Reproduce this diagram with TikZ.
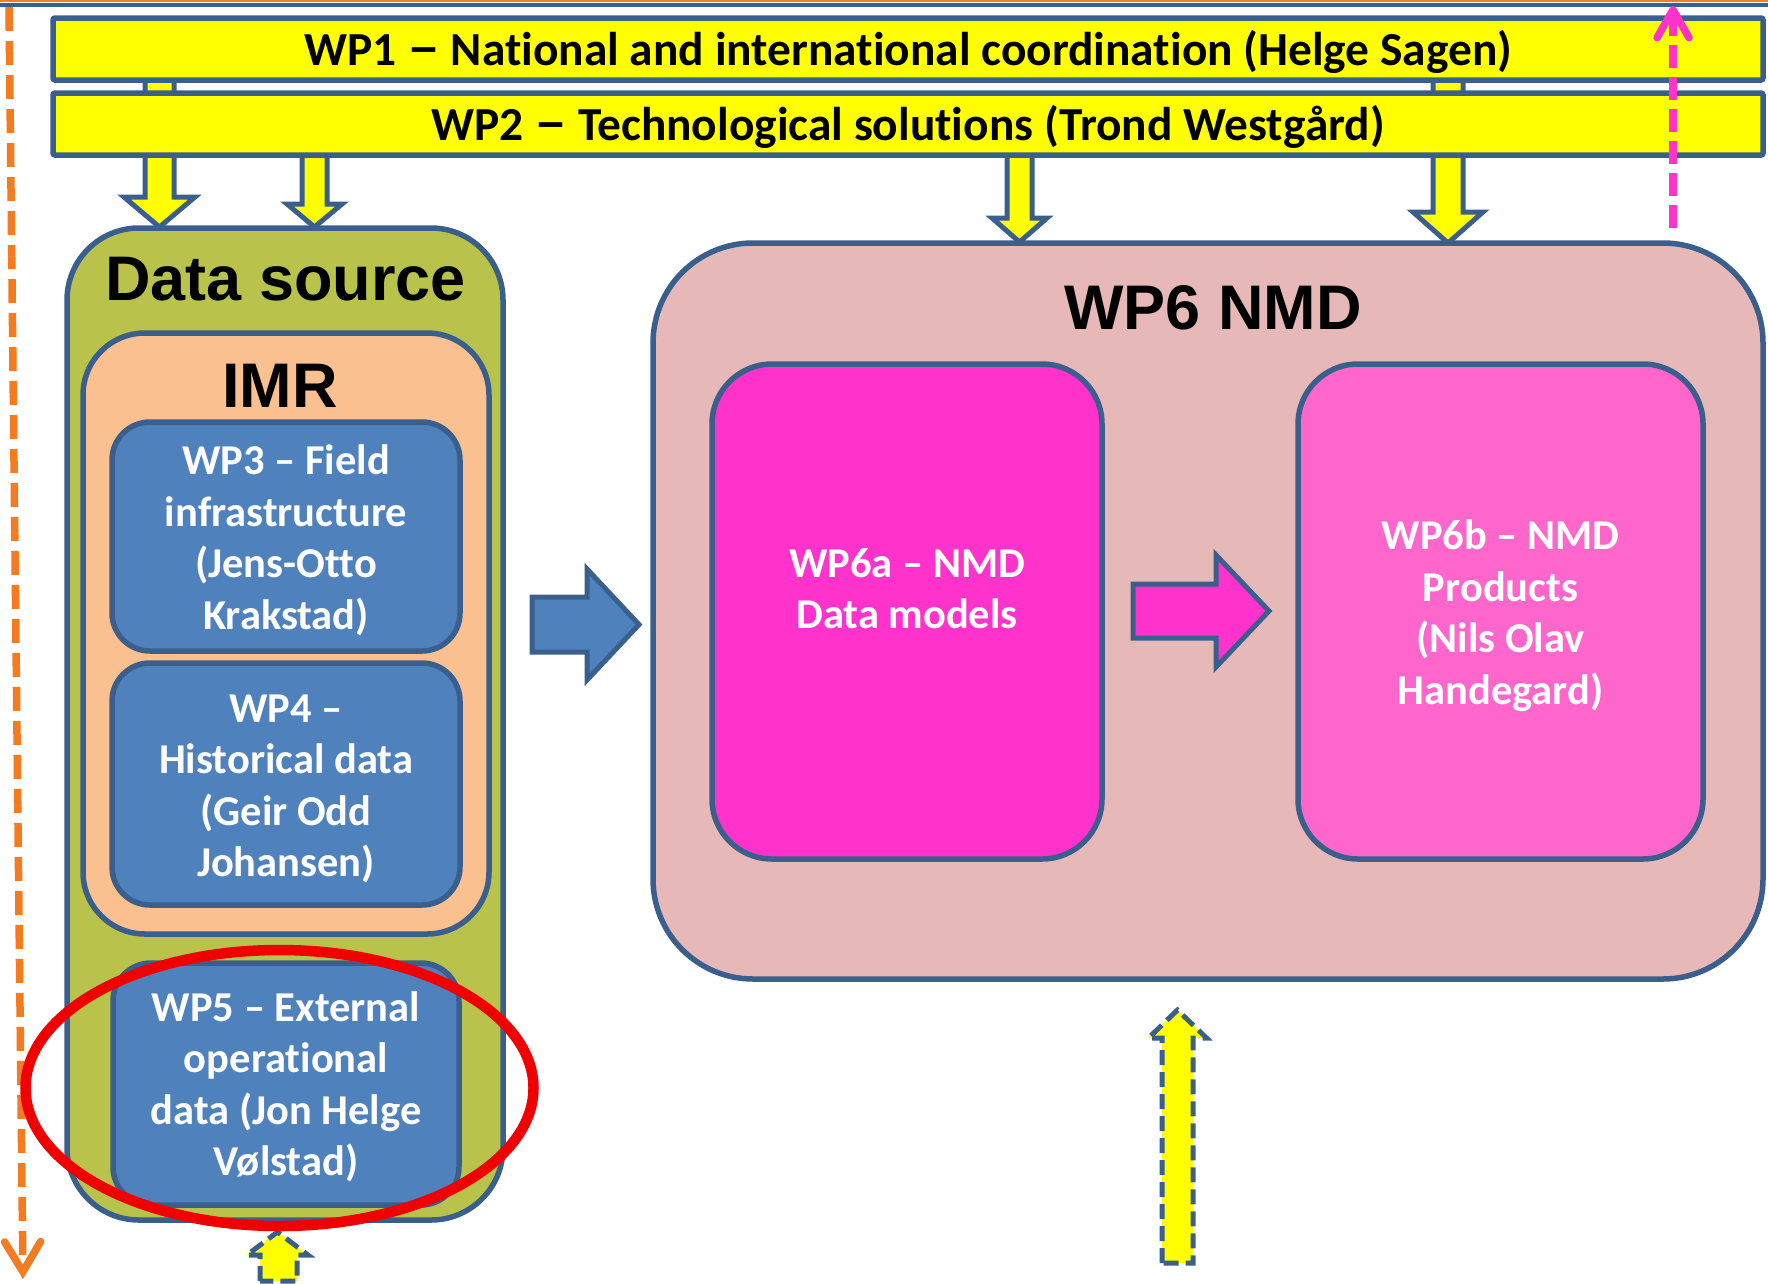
\documentclass[tikz,border=0pt]{standalone}
\usepackage{fontspec}
\setmainfont{Carlito}[Ligatures={NoCommon}]
\newfontfamily\arialfont{Liberation Sans}
\usetikzlibrary{arrows.meta,shapes.geometric}
\definecolor{edge}{HTML}{3A5F8C}
\definecolor{barYellow}{HTML}{FFFF00}
\definecolor{srcGreen}{HTML}{B9C34C}
\definecolor{imrPeach}{HTML}{FAC090}
\definecolor{wpBlue}{HTML}{4F81BD}
\definecolor{nmdPink}{HTML}{E6B9B8}
\definecolor{magA}{HTML}{FF33CC}
\definecolor{magB}{HTML}{FF66CC}
\definecolor{lineOrange}{HTML}{F47B20}
\definecolor{ringRed}{HTML}{F00000}
\newcommand{\wdash}{\scalebox{1.4}[1.15]{–}}
\begin{document}
\begin{tikzpicture}[x=1pt,y=-1pt,
  box/.style={draw=edge, line width=5.5pt, inner sep=0pt, outer sep=0pt, rectangle},
  barbox/.style={box, fill=barYellow, rounded corners=2pt, minimum width=1710pt, minimum height=62pt,
     font=\bfseries\fontsize{47.4pt}{56pt}\selectfont, text height=32pt, text depth=0pt},
  wpbox/.style={box, fill=wpBlue, rounded corners=38pt, minimum width=348pt},
  nmdbox/.style={box, rounded corners=60pt, minimum height=495pt},
  wptext/.style={text=white, inner sep=0pt, font=\bfseries\fontsize{42.5pt}{51.5pt}\selectfont, align=center},
  titletext/.style={font=\arialfont\bfseries\fontsize{63pt}{70pt}\selectfont, inner sep=0pt, anchor=base},
  blockarrow/.style={draw=edge, line width=5pt, line join=miter},
  dasharrow/.style={draw=edge, fill=barYellow, line width=5pt, dash pattern=on 15pt off 7pt},
]
\useasboundingbox (0,0) rectangle (1768,1283);

% top lines
\coordinate (tl) at (0,1); \coordinate (tr) at (1768,1);
\coordinate (bl) at (0,5); \coordinate (br) at (1768,5);
\draw[lineOrange, line width=2.5pt] (tl) -- (tr);
\draw[edge, line width=3.5pt] (bl) -- (br);

% orange dashed vertical connector
\coordinate (otop) at (9,7);
\coordinate (oend) at (23,1279);
\draw[lineOrange, line width=7.5pt, dash pattern=on 24pt off 10pt,
  -{Straight Barb[length=30pt,width=36pt,line cap=round]}] (otop) -- (oend);

% down block arrows (drawn before bars)
\draw[blockarrow, fill=barYellow] (145,70) -- (145,197) -- (124,197) -- (159.5,227) -- (195,197) -- (174,197) -- (174,70) -- cycle;
\draw[blockarrow, fill=barYellow] (302,145) -- (302,204) -- (287,204) -- (314.5,227) -- (342,204) -- (327,204) -- (327,145) -- cycle;
\draw[blockarrow, fill=barYellow] (1007,145) -- (1007,218) -- (992,218) -- (1019.5,242) -- (1047,218) -- (1032,218) -- (1032,145) -- cycle;
\draw[blockarrow, fill=barYellow] (1433,70) -- (1433,212) -- (1413,212) -- (1448,243) -- (1483,212) -- (1463,212) -- (1463,70) -- cycle;

% bars
\node[barbox] (wp1) at (908,49) {WP1 \wdash{} National and international coordination (Helge Sagen)};
\node[barbox] (wp2) at (908,124) {WP2 \wdash{} Technological solutions (Trond Westgård)};

% data source column
\node[box, fill=srcGreen, rounded corners=72pt, minimum width=436pt, minimum height=992pt] (src) at (285,724) {};
\node[titletext] (srctitle) at (285.5,300) {Data source};
\node[box, fill=imrPeach, rounded corners=62pt, minimum width=406pt, minimum height=601pt] (imr) at (286,633.5) {};
\node[titletext] (imrtitle) at (280,407) {IMR};
\node[wpbox, minimum height=229pt] (wp3) at (286,536.5) {};
\node[wptext] (wp3t) at ([yshift=-4pt]wp3.center) {WP3 – Field\\infrastructure\\(Jens-Otto\\Krakstad)};
\node[wpbox, minimum height=242pt] (wp4) at (286,784) {};
\node[wptext] (wp4t) at ([yshift=-5pt]wp4.center) {WP4 –\\Historical data\\(Geir Odd\\Johansen)};
\node[wpbox, minimum height=242pt, minimum width=346pt] (wp5) at (286,1084) {};
\node[wptext] (wp5t) at ([yshift=-3pt]wp5.center) {WP5 – External\\operational\\data (Jon Helge\\Vølstad)};

% WP6 area
\node[box, fill=nmdPink, rounded corners=100pt, minimum width=1110pt, minimum height=736pt] (wp6) at (1208,611) {};
\node[titletext] (wp6title) at (1213,329) {WP6 NMD};
\node[nmdbox, fill=magA, minimum width=390pt] (wp6a) at (907,611.5) {};
\node[wptext] (wp6at) at ([yshift=23pt]wp6a.center) {WP6a – NMD\\Data models};
\node[nmdbox, fill=magB, minimum width=405pt] (wp6b) at (1500.5,611.5) {};
\node[wptext] (wp6bt) at ([yshift=-4pt]wp6b.center) {WP6b – NMD\\Products\\(Nils Olav\\Handegard)};

% horizontal block arrows
\draw[blockarrow, fill=wpBlue] (532,597) -- (587,597) -- (587,569) -- (639,624.5) -- (587,680) -- (587,652) -- (532,652) -- cycle;
\draw[blockarrow, fill=magA] (1133,584) -- (1216,584) -- (1216,555) -- (1269,611) -- (1216,667) -- (1216,638) -- (1133,638) -- cycle;

% pink dashed up connector
\coordinate (pbot) at (1673,228);
\coordinate (ptop) at (1673,6);
\draw[magA, line width=7.5pt, dash pattern=on 23pt off 9pt,
  -{Straight Barb[length=28pt,width=32pt,line cap=round,line join=round]}] (pbot) -- (ptop);

% dashed yellow up arrows
\draw[dasharrow] (1162,1263) -- (1162,1038) -- (1148.5,1038) -- (1177.5,1010) -- (1206.5,1038) -- (1193,1038) -- (1193,1263) -- cycle;
\draw[dasharrow] (260,1281) -- (260,1255) -- (247,1255) -- (277.5,1232) -- (308,1255) -- (297,1255) -- (297,1281) -- cycle;

% red ring
\node[draw=ringRed, line width=10.5pt, ellipse, minimum width=508pt, minimum height=276pt, inner sep=0pt] (ring) at (279.5,1088) {};
\end{tikzpicture}
\end{document}
